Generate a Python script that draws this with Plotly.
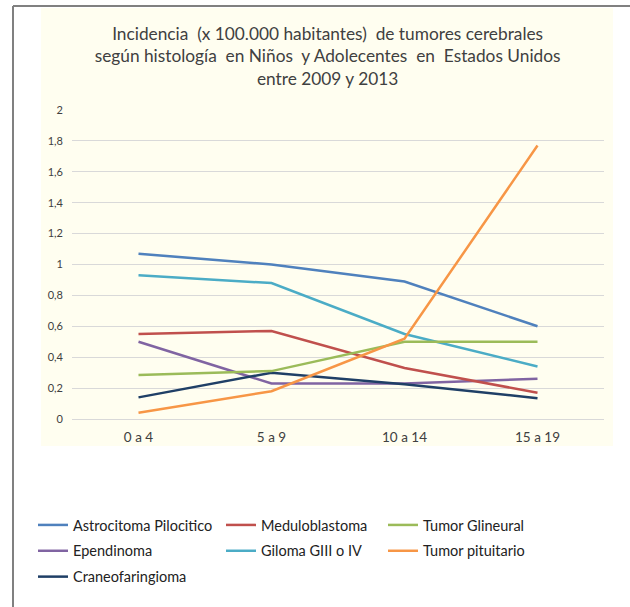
import plotly.graph_objects as go

categories = ["0 a 4", "5 a 9", "10 a 14", "15 a 19"]
astrocitoma = [1.07, 1.00, 0.89, 0.60]
meduloblastoma = [0.55, 0.57, 0.33, 0.17]
glineural = [0.285, 0.31, 0.50, 0.50]
ependinoma = [0.50, 0.23, 0.23, 0.26]
giloma = [0.93, 0.88, 0.55, 0.34]
pituitario = [0.04, 0.18, 0.52, 1.77]
craneo = [0.14, 0.30, 0.225, 0.135]

W, H = 630, 607
L, R, T, B = 72, 26, 110, 188
PW, PH = W - L - R, H - T - B

def px(x):
    return (x - L) / PW

def py(y):
    return (H - B - y) / PH

series = [
    ("Astrocitoma Pilocitico", astrocitoma, "#4F81BD", "legend"),
    ("Ependinoma", ependinoma, "#8064A2", "legend"),
    ("Craneofaringioma", craneo, "#1F3F66", "legend"),
    ("Meduloblastoma", meduloblastoma, "#C0504D", "legend2"),
    ("Giloma GIII o IV", giloma, "#4BACC6", "legend2"),
    ("Tumor Glineural", glineural, "#9BBB59", "legend3"),
    ("Tumor pituitario", pituitario, "#F79646", "legend3"),
]

fig = go.Figure()
for i, (name, vals, color, lg) in enumerate(series):
    fig.add_trace(go.Scatter(x=categories, y=vals, mode="lines", name=name,
                             line=dict(color=color, width=2.5), legend=lg,
                             legendgroup="g%d" % i))

font = "Lato, 'Open Sans', sans-serif"
leg_common = dict(orientation="v", yanchor="top", xanchor="left",
                  bgcolor="rgba(0,0,0,0)", font=dict(family=font, size=14.5, color="#222222"),
                  itemwidth=30, tracegroupgap=4)

fig.update_layout(
    width=W, height=H,
    margin=dict(l=L, r=R, t=T, b=B),
    paper_bgcolor="white",
    plot_bgcolor="rgba(0,0,0,0)",
    separators=", ",
    showlegend=True,
    title=dict(text="Incidencia  (x 100.000 habitantes)  de tumores cerebrales<br>según histología  en Niños  y Adolecentes  en  Estados Unidos<br>entre 2009 y 2013",
               x=0.52, xanchor="center", y=1 - 40 / H, yanchor="top",
               font=dict(family=font, size=17.3, color="#404040")),
    xaxis=dict(range=[-0.5, 3.5], showgrid=False, zeroline=False, showline=False,
               ticks="", ticklabelstandoff=8,
               tickfont=dict(family=font, size=13.5, color="#404040")),
    yaxis=dict(range=[0, 2], dtick=0.2, tickformat=".1~f", showgrid=True, gridcolor="#D9D9D9",
               gridwidth=1, zeroline=True, zerolinecolor="#D9D9D9", zerolinewidth=1,
               showline=False, ticks="", ticklabelstandoff=8,
               tickfont=dict(family=font, size=11, color="#404040")),
    legend=dict(x=px(33), y=py(509), **leg_common),
    legend2=dict(x=px(221), y=py(509), **leg_common),
    legend3=dict(x=px(383), y=py(509), **leg_common),
    shapes=[
        dict(type="rect", xref="paper", yref="paper", x0=px(41), x1=px(613), y0=py(446), y1=py(8),
             fillcolor="#FFFEF0", line=dict(width=0), layer="below"),
        dict(type="line", xref="paper", yref="paper", x0=px(13), x1=px(13), y0=py(6), y1=py(607),
             line=dict(color="#808080", width=2)),
        dict(type="line", xref="paper", yref="paper", x0=px(13), x1=px(630), y0=py(6), y1=py(6),
             line=dict(color="#808080", width=2)),
    ],
)

fig.write_html("out.html", config={"displayModeBar": False},
               post_script="document.body.style.margin='0';")
